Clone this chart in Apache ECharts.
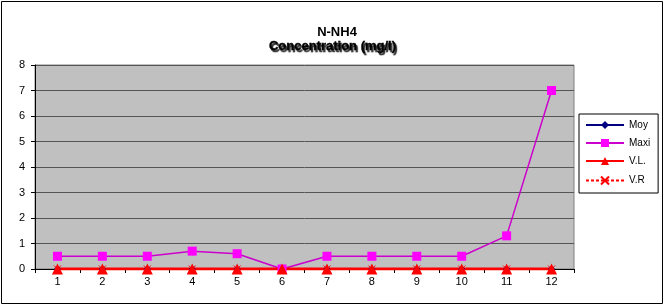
<!DOCTYPE html>
<html><head><meta charset="utf-8">
<script src="https://cdn.jsdelivr.net/npm/echarts@6/dist/echarts.min.js"></script>
<style>html,body{margin:0;padding:0;background:#fff}#c{width:665px;height:306px}</style>
</head><body><div id="c"></div>
<script>
const categories = ['1','2','3','4','5','6','7','8','9','10','11','12'];
const moy  = [0,0,0,0,0,0,0,0,0,0,0,0];
const maxi = [0.5,0.5,0.5,0.7,0.6,0,0.5,0.5,0.5,0.5,1.3,7];
const vl   = [0,0,0,0,0,0,0,0,0,0,0,0];
const vr   = [0,0,0,0,0,0,0,0,0,0,0,0];
const chart = echarts.init(document.getElementById('c'), null, {renderer:'canvas'});
const F = 'Liberation Sans, Arial, sans-serif';
chart.setOption({
  animation:false,
  textStyle:{fontFamily:F},
  graphic:[
    {type:'rect',shape:{x:1.5,y:1.5,width:661,height:302},style:{fill:'none',stroke:'#000',lineWidth:1},z:-10},
    {type:'text',left:'center',top:40,style:{text:'Concentration (mg/l)',font:'bold 13px '+F,fill:'#000',
      textShadowColor:'rgba(0,0,0,0.85)',textShadowOffsetX:1.5,textShadowOffsetY:1.5,textShadowBlur:1,
      stroke:'#000',lineWidth:0.4},z:10}
  ],
  title:{text:'N-NH4',left:332,textAlign:'center',top:21,
    textStyle:{fontFamily:F,fontSize:13,fontWeight:'bold',color:'#000'}},
  legend:{orient:'vertical',left:579,top:114,width:78,itemWidth:38,itemHeight:10,itemGap:8,
    padding:[6,8,6,6],borderColor:'#000',borderWidth:1,backgroundColor:'#fff',
    textStyle:{fontFamily:F,fontSize:10,color:'#000'},
    data:['Moy','Maxi','V.L.','V.R']},
  grid:{left:35,right:91,top:65,bottom:37,show:true,backgroundColor:'#c0c0c0',borderColor:'#808080',borderWidth:1},
  xAxis:{type:'category',data:categories,boundaryGap:true,
    axisLine:{lineStyle:{color:'#000',width:1}},
    axisTick:{show:true,inside:false,length:4,lineStyle:{color:'#000'}},
    axisLabel:{fontFamily:F,fontSize:11,color:'#000',margin:7},splitLine:{show:false}},
  yAxis:{type:'value',min:0,max:8,interval:1,
    axisLine:{show:true,lineStyle:{color:'#000'}},
    axisTick:{show:true,length:4,lineStyle:{color:'#000'}},
    axisLabel:{fontFamily:F,fontSize:11,color:'#000',margin:10},
    splitLine:{show:true,lineStyle:{color:'#555',width:1}}},
  series:[
    {name:'Moy',type:'line',data:moy,symbol:'diamond',symbolSize:7,itemStyle:{color:'#000080'},lineStyle:{color:'#000080',width:1}},
    {name:'Maxi',type:'line',data:maxi,symbol:'rect',symbolSize:9,itemStyle:{color:'#ff00ff'},lineStyle:{color:'#cc00cc',width:1.5}},
    {name:'V.L.',type:'line',data:vl,symbol:'triangle',symbolSize:11,itemStyle:{color:'#ff0000'},lineStyle:{color:'#ff0000',width:3}},
    {name:'V.R',type:'line',data:vr,symbol:'path://M0,0L10,10M10,0L0,10',symbolSize:7,itemStyle:{color:'none',borderColor:'#ff0000',borderWidth:1},lineStyle:{color:'#ff0000',width:1,type:[3,2]},z:1}
  ]
});
</script></body></html>
